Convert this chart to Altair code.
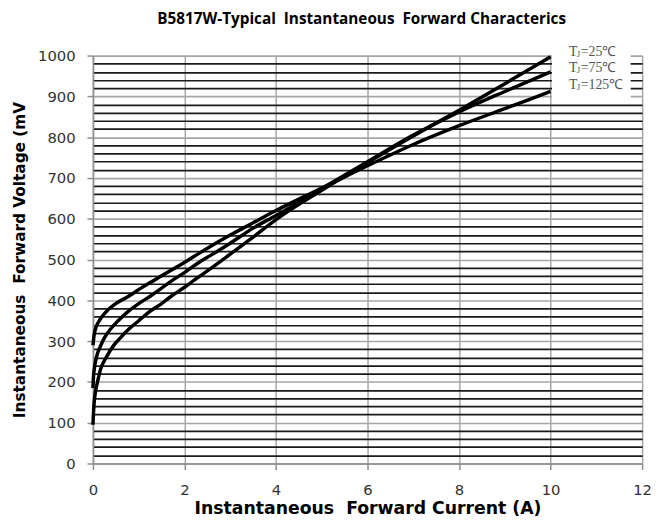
import altair as alt
import pandas as pd

# ---- data ----
current_25 = [0, 0.02, 0.05, 0.1, 0.17, 0.3, 0.45, 0.6, 0.78, 1.0, 1.21, 1.5, 1.71, 2.0, 2.22, 2.5, 3.0, 3.5, 4.0, 5.0, 6.0, 7.0, 8.0, 9.0, 10.0]
voltage_25 = [95, 140, 172, 200, 232, 262, 289, 308, 329, 350, 370, 392, 410, 432, 450, 472, 513, 555, 598, 670, 738, 803, 866, 931, 997]

current_75 = [0, 0.01, 0.03, 0.08, 0.17, 0.25, 0.38, 0.55, 0.74, 1.0, 1.25, 1.5, 1.75, 2.0, 2.29, 2.6, 3.0, 3.5, 4.0, 5.0, 6.0, 7.0, 8.0, 9.0, 10.0]
voltage_75 = [185, 210, 232, 262, 289, 308, 329, 350, 370, 392, 410, 430, 450, 468, 491, 512, 540, 577, 608, 674, 740, 805, 862, 912, 960]

current_125 = [0, 0.03, 0.07, 0.15, 0.27, 0.5, 0.78, 1.05, 1.35, 1.65, 1.97, 2.43, 3.0, 3.5, 4.0, 4.5, 5.0, 6.0, 7.0, 8.0, 9.0, 10.0]
voltage_125 = [290, 318, 335, 352, 370, 392, 410, 430, 450, 470, 491, 523, 560, 590, 620, 648, 675, 730, 782, 828, 870, 912]

series_names = ["Tj=25C", "Tj=75C", "Tj=125C"]

# series labels (drawn like the reference's legend box, at the right of the curves)
label_x = [10.4, 10.4, 10.4]
label_y = [1008, 969, 928]
label_rest = ["=25℃", "=75℃", "=125℃"]
legend_box = {"I": [10.03], "I2": [11.75], "V": [895], "V2": [1003]}

x_ticks = [0, 2, 4, 6, 8, 10, 12]
y_ticks = list(range(0, 1001, 20))

NB = "\u00a0"
title_text = f"B5817W-Typical{NB}{NB}Instantaneous{NB}{NB}Forward{NB}Characterics"
x_title = f"Instantaneous{NB}{NB}Forward{NB}Current{NB}(A)"
y_title = f"Instantaneous{NB}{NB}Forward{NB}Voltage{NB}(mV"

# ---- tables ----
rows = []
for name, xs, ys in zip(series_names, [current_25, current_75, current_125], [voltage_25, voltage_75, voltage_125]):
    for x, y in zip(xs, ys):
        rows.append({"series": name, "I": x, "V": y})
df = pd.DataFrame(rows)
labels = pd.DataFrame({"I": label_x, "V": label_y, "rest": label_rest})
box = pd.DataFrame(legend_box)

xscale = alt.Scale(domain=[0, 12], nice=False, zero=False)
yscale = alt.Scale(domain=[0, 1000], nice=False, zero=False)

major = "datum.value % 100 === 0"

x_axis = alt.Axis(
    values=x_ticks, title=x_title, grid=True, gridColor="#a6a6a6", gridWidth=1.5,
    domainColor="#8c8c8c", domainWidth=1.5, tickColor="#8c8c8c", tickWidth=1.5, tickSize=6,
    labelFont="DejaVu Sans", labelFontSize=15, labelColor="#333333", labelPadding=13,
    labelFlush=False, titleFont="DejaVu Sans", titleFontSize=17.5, titleFontWeight="bold",
    titleColor="black", titlePadding=3,
)
y_axis = alt.Axis(
    values=y_ticks, title=y_title, grid=True, format="d",
    gridColor={"condition": {"test": major, "value": "#a6a6a6"}, "value": "#1a1a1a"},
    gridWidth=1.7,
    tickOpacity={"condition": {"test": major, "value": 1}, "value": 0},
    labelExpr="datum.value % 100 === 0 ? datum.label : ''", labelOverlap=False,
    domainColor="#8c8c8c", domainWidth=1.5, tickColor="#8c8c8c", tickWidth=1.5, tickSize=6,
    labelFont="DejaVu Sans", labelFontSize=15, labelColor="#333333", labelPadding=12,
    labelFlush=False, titleFont="DejaVu Sans", titleFontSize=15.5, titleFontWeight="bold",
    titleColor="black", titlePadding=10,
)

X = alt.X("I:Q", scale=xscale, axis=x_axis)
Y = alt.Y("V:Q", scale=yscale, axis=y_axis)

lines = alt.Chart(df).mark_line(color="black", strokeWidth=3.5, interpolate="monotone").encode(
    x=X, y=Y, detail="series:N",
)

box_layer = alt.Chart(box).mark_rect(color="white").encode(x=X, x2="I2:Q", y=Y, y2="V2:Q")

base_lab = alt.Chart(labels).encode(x=X, y=Y)
lab_style = dict(align="left", baseline="middle", font="Liberation Serif", color="#555555")
lab_t = base_lab.mark_text(fontSize=14, **lab_style).encode(text=alt.value("T"))
lab_j = base_lab.mark_text(fontSize=9, dx=8, dy=2, **lab_style).encode(text=alt.value("J"))
lab_r = base_lab.mark_text(fontSize=14, dx=12, **lab_style).encode(text="rest:N")

chart = alt.layer(box_layer, lines, lab_t, lab_j, lab_r).properties(
    width=556, height=413,
    autosize="none",
    padding={"left": 86, "top": 45, "right": 11, "bottom": 51},
    title=alt.TitleParams(text=title_text, font="Open Sans", fontSize=15.5, fontWeight="bold",
                          color="black", anchor="middle", dx=-6, offset=18),
).configure(background="white").configure_view(strokeWidth=0)

chart.save("out.html", embed_options={"renderer": "svg", "actions": False})
